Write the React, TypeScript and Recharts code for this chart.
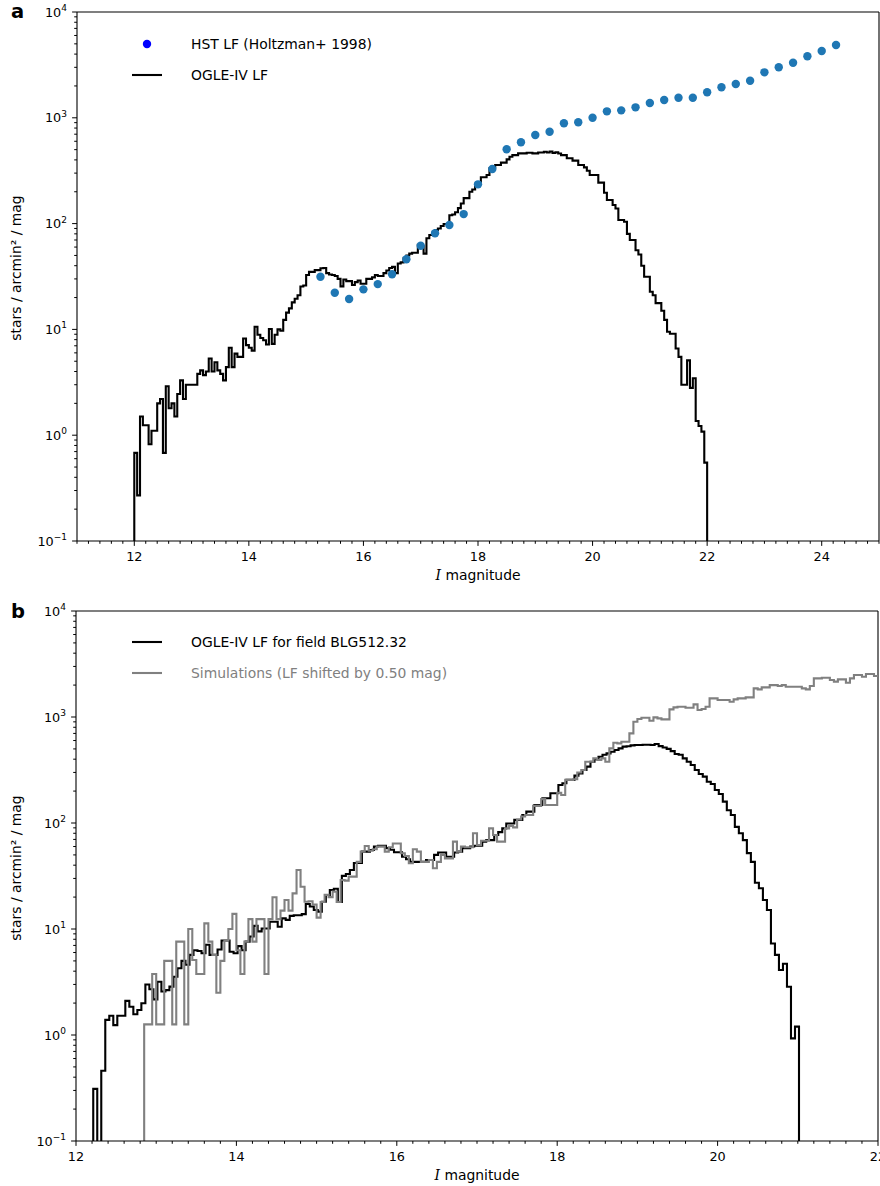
import React from "react";
import {
  ComposedChart,
  Line,
  Scatter,
  XAxis,
  YAxis,
  ReferenceLine,
  Legend,
  Label,
} from "recharts";

const FONT = "DejaVu Sans, sans-serif";
const BIN = 0.05; // mag
const FLOOR = 0.001; // stands in for empty bins on the log axis

// panel a: OGLE-IV LF, 0.05 mag bins starting at I = 12.0
const ogleAStart = 12.0;
const ogleA = [
  0.68, 0.27, 1.5, 1.24, 1.24, 0.82, 1.1, 1.1, 2.0, 2.2,
  0.68, 2.9, 1.8, 2.0, 1.5, 2.45, 3.3, 2.2, 3.0, 3.0,
  3.0, 3.0, 3.8, 4.1, 3.7, 4.0, 5.3, 4.0, 4.9, 4.1,
  3.8, 3.3, 4.4, 6.7, 4.4, 5.9, 5.5, 5.5, 8.2, 7.1,
  6.7, 6.3, 10.6, 8.9, 8.3, 7.9, 7.2, 10.1, 7.3, 8.9,
  10, 9.7, 12.3, 14.4, 15.8, 18, 19.5, 21, 25.4, 26,
  32.7, 35, 35, 36.3, 36.3, 37.8, 38, 34, 33, 32.7,
  32, 30, 25.5, 29.6, 28.6, 28.6, 26.3, 28, 29, 27,
  27, 30, 30, 31, 32.7, 32, 32, 34, 36, 38,
  39, 34, 42, 43, 47, 50, 52, 53, 53, 63,
  61, 52, 72.6, 78, 82, 87, 90, 95, 99, 99,
  120, 122, 128, 140, 155, 174, 174, 200, 210, 225,
  244, 274, 274, 288, 333, 340, 358, 358, 377, 377,
  405, 429, 444, 444, 461, 461, 461, 468, 468, 461,
  461, 470, 470, 478, 470, 480, 465, 472, 460, 444,
  444, 414, 414, 394, 394, 358, 358, 340, 316, 288,
  288, 288, 244, 244, 196, 167, 167, 150, 139, 108,
  108, 104, 80, 70, 70, 56, 51, 40, 31.5, 31.5,
  22.7, 21, 17.7, 17.7, 15, 12.3, 9.5, 9.1, 9.1, 6.6,
  5.5, 3.0, 3.0, 5.1, 2.8, 3.45, 1.36, 1.22, 1.08, 0.55,
];

// panel a: HST LF (Holtzman+ 1998)
const hstMag = [
  15.25, 15.5, 15.75, 16.0, 16.25, 16.5, 16.75, 17.0, 17.25, 17.5,
  17.75, 18.0, 18.25, 18.5, 18.75, 19.0, 19.25, 19.5, 19.75, 20.0,
  20.25, 20.5, 20.75, 21.0, 21.25, 21.5, 21.75, 22.0, 22.25, 22.5,
  22.75, 23.0, 23.25, 23.5, 23.75, 24.0, 24.25,
];
const hstLF = [
  31.5, 22.2, 19.4, 23.9, 26.8, 33.2, 46, 61.8, 81, 97,
  123, 235, 328, 504, 587, 687, 739, 887, 907, 1002,
  1151, 1176, 1256, 1380, 1473, 1548, 1548, 1741, 1942, 2085,
  2243, 2690, 3000, 3317, 3812, 4277, 4875,
];

// panel b: OGLE-IV LF for field BLG512.32
const ogleBStart = 12.215;
const ogleB = [
  0.31, 0, 0.46, 1.39, 1.52, 1.24, 1.52, 1.52, 2.1, 1.85,
  1.57, 1.72, 1.99, 3.0, 2.7, 2.17, 3.18, 2.57, 2.65, 2.86,
  3.55, 4.26, 5.0, 4.6, 5.7, 6.3, 6.2, 5.9, 7.1, 5.7,
  5.7, 6.4, 7.8, 7.8, 6.1, 5.9, 6.9, 6.3, 7.6, 8.5,
  10.7, 9.5, 10.1, 10.1, 11.7, 11.7, 10.5, 12.6, 12.2, 13.3,
  13.5, 13.5, 13.8, 17.2, 16.3, 15.1, 14.6, 18.1, 20.9, 23.3,
  24, 18, 31.7, 33, 36, 42, 42, 53.7, 53.7, 55.7,
  60, 61, 61, 58, 56, 53, 53, 48, 45.5, 43,
  43, 43, 43, 44.8, 44.8, 50, 52.7, 52.7, 48, 48,
  52.7, 53.7, 58, 58, 60, 61, 61, 66.7, 69, 69,
  77, 82, 89, 99, 99, 107, 107, 119, 128, 128,
  148, 148, 171, 171, 191, 191, 228, 237, 255, 255,
  280, 294, 316, 340, 378, 400, 422, 440, 454, 470,
  488, 506, 525, 530, 540, 545, 545, 548, 548, 545,
  556, 531, 516, 500, 477, 448, 440, 407, 378, 352,
  316, 290, 274, 245, 233, 205, 188, 159, 132, 119,
  92, 80, 69, 52, 43, 27.3, 24.2, 18.8, 15.1, 7.3,
  5.7, 4.1, 4.7, 2.85, 0.93, 1.2,
];

// panel b: simulations (LF shifted by 0.50 mag)
const simBStart = 12.85;
const simB = [
  1.26, 1.26, 3.76, 1.26, 1.26, 5.0, 5.0, 1.26, 7.6, 7.6,
  1.26, 10, 5.1, 3.76, 3.76, 11.3, 7.6, 5.7, 2.5, 5.0,
  7.8, 10, 13.9, 6.3, 3.76, 7.6, 12.4, 7.6, 12.4, 12.4,
  3.76, 12.4, 19.9, 12.4, 14.9, 18.8, 14.9, 21.7, 36, 25,
  18.1, 18.3, 17, 12.8, 18, 21, 20, 22.5, 18, 29,
  28.6, 31.2, 31.2, 43, 53.7, 60.7, 54.8, 56.5, 59.8, 59.8,
  53.7, 59, 64, 64, 51.8, 48.8, 41.7, 56.5, 53.7, 43,
  43, 44.8, 37.4, 43, 50, 46.4, 46.4, 66.7, 53.7, 59.8,
  59, 59, 80, 62, 68, 68, 89, 77, 66.7, 66.7,
  89, 94, 91, 108, 115, 119, 119, 145, 145, 168,
  148, 148, 148, 193, 184, 255, 255, 259, 300, 316,
  378, 378, 407, 393, 407, 378, 506, 572, 564, 585,
  585, 700, 903, 957, 985, 985, 922, 992, 970, 950,
  950, 1180, 1233, 1250, 1250, 1224, 1224, 1315, 1163, 1190,
  1250, 1500, 1500, 1446, 1446, 1446, 1393, 1467, 1500, 1500,
  1531, 1531, 1862, 1823, 1902, 1902, 2000, 2000, 1958, 2000,
  1930, 1930, 1930, 1930, 1862, 1823, 1958, 2313, 2313, 2347,
  2347, 2235, 2155, 2265, 2265, 2105, 2313, 2487, 2487, 2400,
  2543, 2543, 2433, 2433,
];

const yMajor = [0.1, 1, 10, 100, 1000, 10000];

// ---- helpers ----

// step outline like matplotlib histtype="step": up from the floor, down at the end
function steps(start: number, values: number[]) {
  const pts = [{ x: start, y: FLOOR }];
  values.forEach((v, i) => pts.push({ x: +(start + i * BIN).toFixed(3), y: v > 0 ? v : FLOOR }));
  pts.push({ x: +(start + values.length * BIN).toFixed(3), y: FLOOR });
  return pts;
}

function xTicks(lo: number, hi: number) {
  const t: number[] = [];
  for (let i = Math.round(lo * 5); i <= Math.round(hi * 5); i++) t.push(i / 5);
  return t;
}

const yTicks = yMajor
  .concat(yMajor.slice(0, -1).flatMap((d) => [2, 3, 4, 5, 6, 7, 8, 9].map((k) => +(d * k).toPrecision(3))))
  .sort((a, b) => a - b);

const renderXTick = (props: any) => {
  const { x, y, payload } = props;
  const v = payload.value;
  const major = Math.abs(v - Math.round(v)) < 1e-6 && Math.round(v) % 2 === 0;
  return (
    <g>
      <line x1={x} x2={x} y1={y} y2={y + (major ? 4.9 : 2.8)} stroke="#000" strokeWidth={1} />
      {major && (
        <text x={x} y={y + 19.5} textAnchor="middle" fontSize={12.8} fontFamily={FONT} fill="#000">
          {Math.round(v)}
        </text>
      )}
    </g>
  );
};

const renderYTick = (props: any) => {
  const { x, y, payload } = props;
  const lg = Math.log10(payload.value);
  const e = Math.round(lg);
  const major = Math.abs(lg - e) < 1e-6;
  return (
    <g>
      <line x1={x - (major ? 4.9 : 2.8)} x2={x} y1={y} y2={y} stroke="#000" strokeWidth={1} />
      {major && (
        <text x={x - 10} y={y + 4.6} textAnchor="end" fontSize={12.8} fontFamily={FONT} fill="#000">
          <tspan>10</tspan>
          <tspan dy={-5.6} fontSize={9}>{e < 0 ? `\u2212${-e}` : e}</tspan>
        </text>
      )}
    </g>
  );
};

const xLabel = (props: any) => {
  const vb = props.viewBox || {};
  return (
    <text x={vb.x + vb.width / 2} y={vb.y + 39} textAnchor="middle" fontSize={13.9} fontFamily={FONT} fill="#000">
      <tspan fontFamily="DejaVu Serif, serif" fontStyle="italic">I</tspan>
      <tspan> magnitude</tspan>
    </text>
  );
};

const yLabel = (letter: string, letterY: number, midY: number) => (props: any) => (
  <g>
    <text x={11} y={letterY} fontSize={19.5} fontWeight="bold" fontFamily={FONT} fill="#000">
      {letter}
    </text>
    <text
      x={21}
      y={midY}
      transform={`rotate(-90, 21, ${midY})`}
      textAnchor="middle"
      fontSize={13.9}
      fontFamily={FONT}
      fill="#000"
    >
      stars / arcmin² / mag
    </text>
  </g>
);

const legendA = () => (
  <svg width={380} height={64}>
    <circle cx={27} cy={16} r={4.2} fill="#0000ff" />
    <text x={71} y={21} fontSize={13.9} fontFamily={FONT} fill="#000">HST LF (Holtzman+ 1998)</text>
    <line x1={12} x2={42} y1={47} y2={47} stroke="#000" strokeWidth={2.1} />
    <text x={71} y={52} fontSize={13.9} fontFamily={FONT} fill="#000">OGLE-IV LF</text>
  </svg>
);

const legendB = () => (
  <svg width={420} height={64}>
    <line x1={12} x2={42} y1={16} y2={16} stroke="#000" strokeWidth={2.1} />
    <text x={71} y={21} fontSize={13.9} fontFamily={FONT} fill="#000">OGLE-IV LF for field BLG512.32</text>
    <line x1={12} x2={42} y1={47} y2={47} stroke="#808080" strokeWidth={2.1} />
    <text x={71} y={52} fontSize={13.9} fontFamily={FONT} fill="#808080">Simulations (LF shifted by 0.50 mag)</text>
  </svg>
);

const hstData = hstMag.map((m, i) => ({ x: m, y: hstLF[i] }));

export default function App() {
  return (
    <div style={{ position: "absolute", left: 0, top: 0, width: 880, height: 1186, background: "#fff" }}>
      <ComposedChart width={880} height={593} margin={{ top: 12, right: 1, bottom: 0, left: 0 }}>
        <XAxis
          type="number"
          dataKey="x"
          domain={[11, 25]}
          allowDataOverflow
          ticks={xTicks(11, 25)}
          interval={0}
          tickSize={0}
          tickMargin={0}
          tick={renderXTick}
          height={52}
          axisLine={{ stroke: "#000", strokeWidth: 1.1 }}
        >
          <Label content={xLabel} />
        </XAxis>
        <YAxis
          type="number"
          dataKey="y"
          scale="log"
          domain={[0.1, 10000]}
          allowDataOverflow
          ticks={yTicks}
          interval={0}
          tickSize={0}
          tickMargin={0}
          tick={renderYTick}
          width={77}
          axisLine={{ stroke: "#000", strokeWidth: 1.1 }}
        >
          <Label content={yLabel("a", 18, 268)} />
        </YAxis>
        <ReferenceLine y={10000} stroke="#000" strokeWidth={1.1} />
        <ReferenceLine x={25} stroke="#000" strokeWidth={1.1} />
        <Scatter
          data={hstData}
          dataKey="y"
          isAnimationActive={false}
          shape={(p: any) => <circle cx={p.cx} cy={p.cy} r={4.2} fill="#1f77b4" />}
        />
        <Line
          data={steps(ogleAStart, ogleA)}
          dataKey="y"
          type="stepAfter"
          stroke="#000"
          strokeWidth={2.1}
          dot={false}
          activeDot={false}
          isAnimationActive={false}
        />
        <Legend
          content={legendA}
          layout="horizontal"
          verticalAlign="middle"
          align="center"
          wrapperStyle={{ position: "absolute", left: 120, top: 28, width: 380, height: 64 }}
        />
      </ComposedChart>

      <ComposedChart width={880} height={593} margin={{ top: 18, right: 2, bottom: 0, left: 0 }}>
        <XAxis
          type="number"
          dataKey="x"
          domain={[12, 22]}
          allowDataOverflow
          ticks={xTicks(12, 22)}
          interval={0}
          tickSize={0}
          tickMargin={0}
          tick={renderXTick}
          height={45}
          axisLine={{ stroke: "#000", strokeWidth: 1.1 }}
        >
          <Label content={xLabel} />
        </XAxis>
        <YAxis
          type="number"
          dataKey="y"
          scale="log"
          domain={[0.1, 10000]}
          allowDataOverflow
          ticks={yTicks}
          interval={0}
          tickSize={0}
          tickMargin={0}
          tick={renderYTick}
          width={76}
          axisLine={{ stroke: "#000", strokeWidth: 1.1 }}
        >
          <Label content={yLabel("b", 25, 275)} />
        </YAxis>
        <ReferenceLine y={10000} stroke="#000" strokeWidth={1.1} />
        <ReferenceLine x={22} stroke="#000" strokeWidth={1.1} />
        <Line
          data={steps(ogleBStart, ogleB)}
          dataKey="y"
          type="stepAfter"
          stroke="#000"
          strokeWidth={2.1}
          dot={false}
          activeDot={false}
          isAnimationActive={false}
        />
        <Line
          data={steps(simBStart, simB)}
          dataKey="y"
          type="stepAfter"
          stroke="#808080"
          strokeWidth={2.1}
          dot={false}
          activeDot={false}
          isAnimationActive={false}
        />
        <Legend
          content={legendB}
          layout="horizontal"
          verticalAlign="middle"
          align="center"
          wrapperStyle={{ position: "absolute", left: 120, top: 33, width: 420, height: 64 }}
        />
      </ComposedChart>
    </div>
  );
}
